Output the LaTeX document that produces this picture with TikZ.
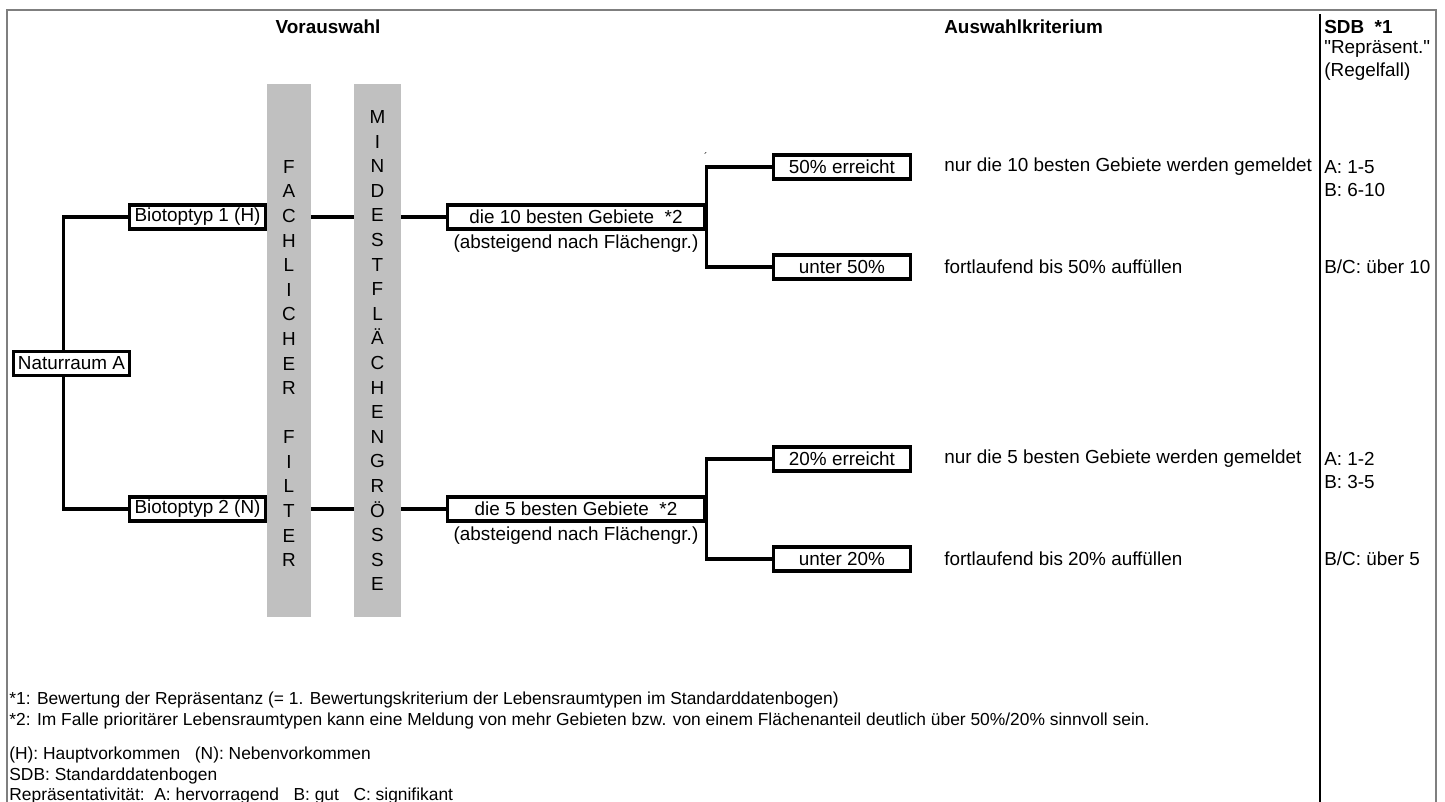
\documentclass[tikz,border=0pt]{standalone}
\usepackage{fontspec}
\setmainfont{Liberation Sans}
\newfontfamily\qfont{Liberation Sans}
\usetikzlibrary{positioning,calc}
\definecolor{bargray}{HTML}{C0C0C0}
\definecolor{framegray}{HTML}{7F7F7F}

\begin{document}
\begin{tikzpicture}[
  x=0.02cm, y=-0.02cm,
  font=\fontsize{10.75pt}{14pt}\selectfont,
  box/.style={draw, line width=2pt, fill=white, minimum height=0.48cm, inner sep=0pt},
  resbox/.style={box, minimum width=2.74cm},
  bar/.style={fill=bargray, minimum height=10.66cm, inner sep=0pt},
  vtext/.style={align=center, inner sep=0pt},
  lbl/.style={anchor=west, inner sep=0pt},
  head/.style={inner sep=0pt, font=\fontsize{10.75pt}{14pt}\selectfont\bfseries},
  note/.style={anchor=west, inner sep=0pt, font=\fontsize{9.9pt}{12pt}\selectfont},
  conn/.style={line width=1.8pt}
]
\useasboundingbox (0,0) rectangle (1445,802);

% frame and SDB column
\coordinate (fbl) at (7,802);
\coordinate (ftl) at (7,10);
\coordinate (ftr) at (1436,10);
\coordinate (fbr) at (1436,802);
\draw[framegray, line width=1.1pt] (fbl) -- (ftl) -- (ftr) -- (fbr);
\coordinate (ctop) at (1320,14);
\coordinate (cbot) at (1320,802);
\draw[line width=1.4pt] (ctop) -- (cbot);

% headings
\node[head] (hvor) at (328,27) {Vorauswahl};
\node[head, anchor=west] (haus) at (944,27) {Auswahlkriterium};
\node[head, anchor=west] (hsdb) at (1324,27) {SDB\ \ *1};
\node[lbl] (hrep) at (1324,49) {{\qfont"}Repräsent.{\qfont"}};
\node[lbl] (hreg) at (1324,72) {(Regelfall)};

% filter bars
\node[bar, minimum width=0.88cm] (filterbar) at (289,350.5) {};
\node[bar, minimum width=0.94cm] (mindestbar) at (377.5,350.5) {};
\node[vtext] (filter) at (289,363.5) {F\\A\\C\\H\\L\\I\\C\\H\\E\\R\\\mbox{}\\F\\I\\L\\T\\E\\R};
\node[vtext] (mindest) at (377.5,350.75) {M\\I\\N\\D\\E\\S\\T\\F\\L\\Ä\\C\\H\\E\\N\\G\\R\\Ö\\S\\S\\E};

% tree
\node[box, minimum width=2.32cm] (nat) at (71.5,363.5) {Naturraum A};
\node[box, minimum width=2.72cm] (bio1) at (197.5,217) {Biotoptyp 1 (H)};
\node[box, minimum width=2.72cm] (bio2) at (197.5,509) {Biotoptyp 2 (N)};

\node[box, minimum width=5.14cm] (best10) at (576,217) {die 10 besten Gebiete\ \ *2};
\node[inner sep=0pt, below=2pt of best10] (sort10) {(absteigend nach Flächengr.)};
\node[box, minimum width=5.14cm] (best5) at (576,509) {die 5 besten Gebiete\ \ *2};
\node[inner sep=0pt, below=2pt of best5] (sort5) {(absteigend nach Flächengr.)};

\node[resbox] (r50) at (842,167) {50\% erreicht};
\node[resbox] (u50) at (842,267) {unter 50\%};
\node[resbox] (r20) at (842,459) {20\% erreicht};
\node[resbox] (u20) at (842,559) {unter 20\%};
\node[inner sep=0pt, font=\fontsize{6pt}{6pt}\selectfont] (tick) at (706,157) {´};

\draw[conn] (bio1.west) -| ($(nat.north)+(-8,0)$);
\draw[conn] (bio2.west) -| ($(nat.south)+(-8,0)$);
\draw[conn] (filterbar.east |- bio1) -- (mindestbar.west |- bio1);
\draw[conn] (mindestbar.east |- bio1) -- (best10.west);
\draw[conn] (filterbar.east |- bio2) -- (mindestbar.west |- bio2);
\draw[conn] (mindestbar.east |- bio2) -- (best5.west);
\draw[conn] (r50.west) -| (best10.east);
\draw[conn] (u50.west) -| (best10.east);
\draw[conn] (r20.west) -| (best5.east);
\draw[conn] (u20.west) -| (best5.east);

% criteria
\node[lbl] (k50) at (944,167) {nur die 10 besten Gebiete werden gemeldet};
\node[lbl] (f50) at (944,267) {fortlaufend bis 50\% auffüllen};
\node[lbl] (k20) at (944,459) {nur die 5 besten Gebiete werden gemeldet};
\node[lbl] (f20) at (944,559) {fortlaufend bis 20\% auffüllen};

% SDB values
\node[lbl] (sa10) at (1324,167) {A: 1-5};
\node[lbl] (sb10) at (1324,190) {B: 6-10};
\node[lbl] (sc10) at (1324,267) {B/C: über 10};
\node[lbl] (sa5) at (1324,459) {A: 1-2};
\node[lbl] (sb5) at (1324,482) {B: 3-5};
\node[lbl] (sc5) at (1324,559) {B/C: über 5};

% footnotes
\node[note] (n1) at (9,700) {*1: Bewertung der Repräsentanz (= 1. Bewertungskriterium der Lebensraumtypen im Standarddatenbogen)};
\node[note] (n2) at (9,721) {*2: Im Falle prioritärer Lebensraumtypen kann eine Meldung von mehr Gebieten bzw. von einem Flächenanteil deutlich über 50\%/20\% sinnvoll sein.};
\node[note] (n3) at (9,755) {(H): Hauptvorkommen\ \ \ (N): Nebenvorkommen};
\node[note] (n4) at (9,776) {SDB: Standarddatenbogen};
\node[note] (n5) at (9,796) {Repräsentativität:\ \ A: hervorragend\ \ \ B: gut\ \ \ C: signifikant};
\end{tikzpicture}
\end{document}
